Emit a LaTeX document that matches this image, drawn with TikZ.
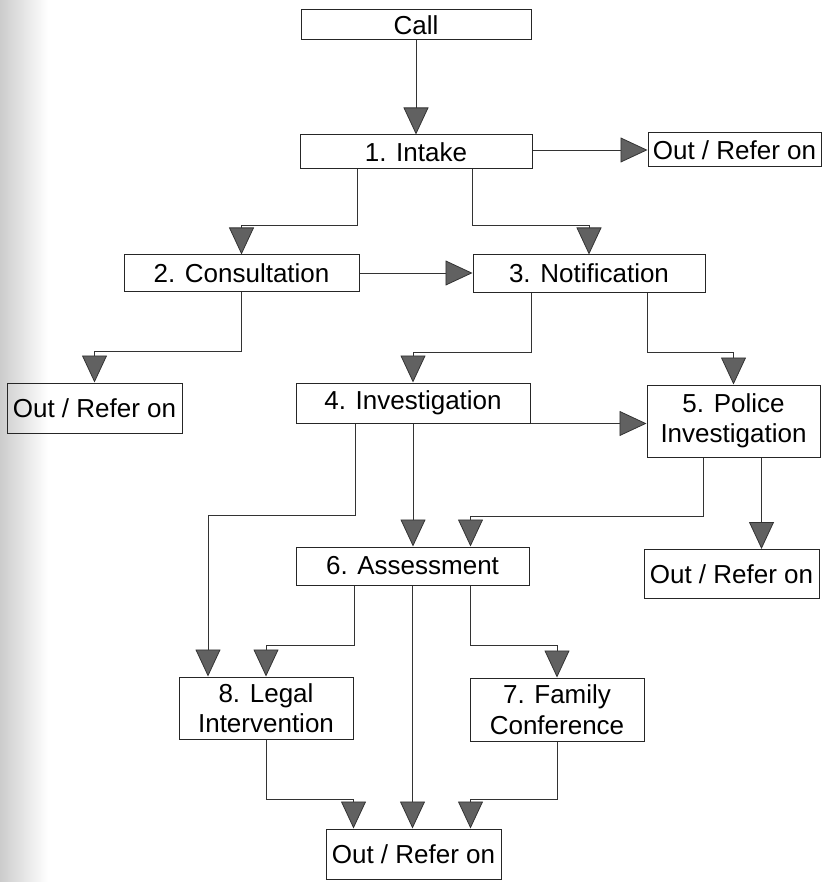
\documentclass[tikz,border=0pt]{standalone}
\usepackage{fontspec}
\setmainfont{Liberation Sans}
\usetikzlibrary{arrows.meta,calc}
\begin{document}
\begin{tikzpicture}[x=1pt,y=-1pt,
  box/.style={draw=black!85,line width=1pt,rectangle,inner sep=0pt,align=center,
              font=\fontsize{26}{30.5}\selectfont},
  flow/.style={draw=black!80,line width=0.8pt,
              -{Triangle[width=25pt,length=27pt,fill=black!62]}}]
\useasboundingbox (0,0) rectangle (821,882);

% grey paper edge along the left margin
\shade[left color=black!20,right color=white] (0,0) rectangle (48,882);

% boxes
\node[box,minimum width=230pt,minimum height=30pt] (call)   at (416,25)    {Call};
\node[box,minimum width=232pt,minimum height=34pt] (intake) at (416,152)   {1. Intake};
\node[box,minimum width=173pt,minimum height=34pt] (outa)   at (734.5,150) {Out / Refer on};
\node[box,minimum width=235pt,minimum height=36pt] (cons)   at (241.5,273) {2. Consultation};
\node[box,minimum width=232pt,minimum height=37pt] (notif)  at (589,273.5) {3. Notification};
\node[box,minimum width=175pt,minimum height=50pt] (outb)   at (94.5,408)  {Out / Refer on};
\node[box,minimum width=234pt,minimum height=40pt] (inv)    at (413,403)   {4. Investigation};
\node[box,minimum width=173pt,minimum height=72pt] (police) at (733.5,421) {5. Police\\Investigation};
\node[box,minimum width=233pt,minimum height=38pt] (assess) at (412.5,566) {6. Assessment};
\node[box,minimum width=175pt,minimum height=49pt] (outc)   at (731.5,574) {Out / Refer on};
\node[box,minimum width=174pt,minimum height=62pt] (legal)  at (266,708)   {8. Legal\\Intervention};
\node[box,minimum width=174pt,minimum height=63pt] (family) at (557,709.5) {7. Family\\Conference};
\node[box,minimum width=175pt,minimum height=50pt] (final)  at (413.5,854) {Out / Refer on};

% connectors
\draw[flow] (call.south) -- (intake.north);
\draw[flow] (intake.east |- outa.west) -- (outa.west);
\draw[flow] ([xshift=-59pt]intake.south) -- ++(0,56) -| (cons.north);
\draw[flow] ([xshift=56pt]intake.south) -- ++(0,56) -| (notif.north);
\draw[flow] (cons.east) -- (cons.east -| notif.west);
\draw[flow] (cons.south) -- ++(0,60) -| (outb.north);
\draw[flow] ([xshift=-58pt]notif.south) -- ++(0,60) -| (inv.north);
\draw[flow] ([xshift=58pt]notif.south) -- ++(0,60) -| (police.north);
\draw[flow] (inv.south east) -- (inv.south east -| police.west);
\draw[flow] ([xshift=-58pt]inv.south) -- ++(0,92) -| ([xshift=-58pt]legal.north);
\draw[flow] (inv.south) -- (inv.south |- assess.north);
\draw[flow] ([xshift=-30pt]police.south) -- ++(0,59) -| ([xshift=58pt]assess.north);
\draw[flow] ([xshift=28pt]police.south) -- ([xshift=28pt]police.south |- outc.north);
\draw[flow] ([xshift=-58pt]assess.south) -- ++(0,60) -| (legal.north);
\draw[flow] (assess.south) -- (assess.south |- final.north);
\draw[flow] ([xshift=58pt]assess.south) -- ++(0,60) -| (family.north);
\draw[flow] (legal.south) -- ++(0,60) -| ([xshift=-60pt]final.north);
\draw[flow] (family.south) -- ++(0,58) -| ([xshift=57pt]final.north);
\end{tikzpicture}
\end{document}
